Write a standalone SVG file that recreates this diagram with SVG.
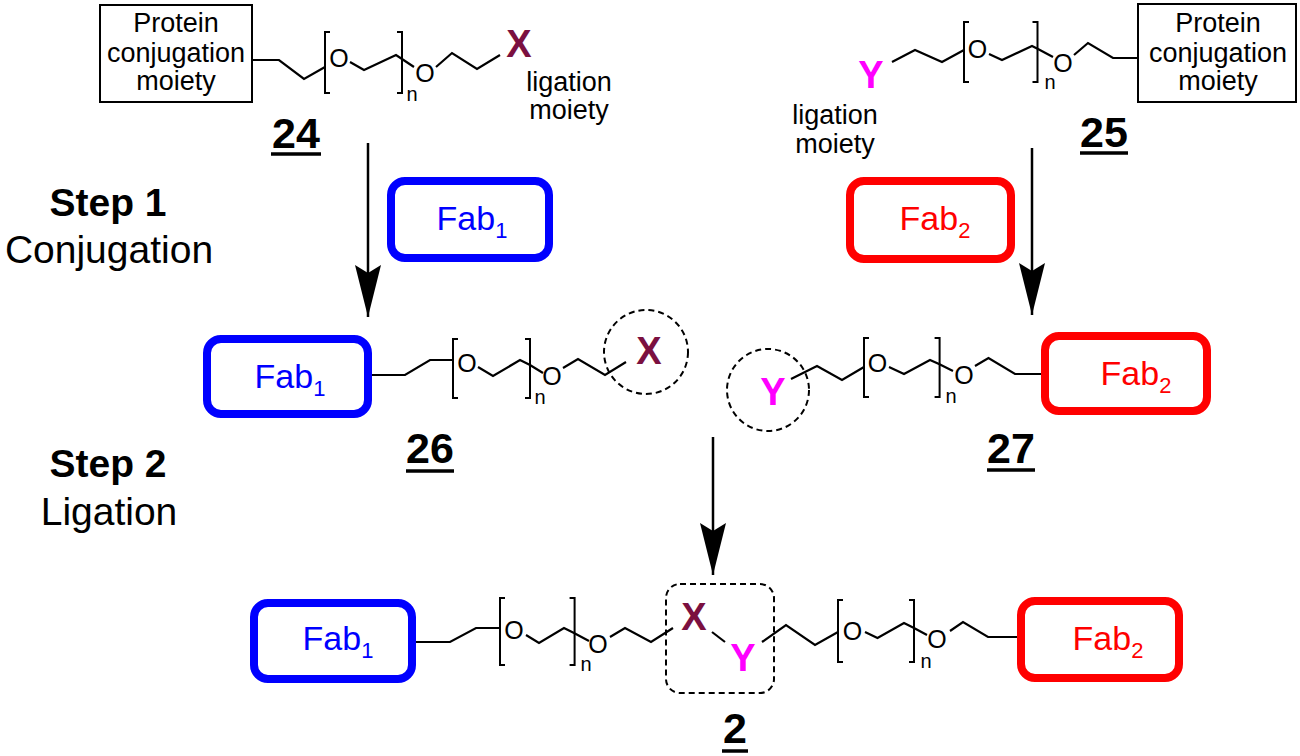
<svg xmlns="http://www.w3.org/2000/svg" width="1300" height="756" viewBox="0 0 1300 756">
<defs>
<style>
.bond{fill:none;stroke:#000;stroke-width:2.2;stroke-linejoin:miter}
.brk{fill:none;stroke:#000;stroke-width:2}
.atom{font-family:"Liberation Sans",Arial,sans-serif;font-size:25px;fill:#000;text-anchor:middle}
.sub{font-family:"Liberation Sans",Arial,sans-serif;font-size:20px;fill:#000;text-anchor:middle}
.lbl{font-family:"Liberation Sans",Arial,sans-serif;font-size:27px;fill:#000;text-anchor:middle}
.num{font-family:"Liberation Sans",Arial,sans-serif;font-size:43px;font-weight:bold;fill:#000;text-anchor:middle}
.ul{stroke:#000;stroke-width:3.5}
.step{font-family:"Liberation Sans",Arial,sans-serif;font-size:39px;fill:#000;text-anchor:middle}
.X{font-family:"Liberation Sans",Arial,sans-serif;font-size:38px;font-weight:bold;fill:#7B1040;text-anchor:middle}
.Y{font-family:"Liberation Sans",Arial,sans-serif;font-size:38px;font-weight:bold;fill:#FF00FF;text-anchor:middle}
.pbox{fill:#fff;stroke:#000;stroke-width:2}
.fab1{fill:#fff;stroke:#0000FF;stroke-width:8}
.fab2{fill:#fff;stroke:#FF0000;stroke-width:8}
.t1{font-family:"Liberation Sans",Arial,sans-serif;font-size:34px;fill:#0000FF;text-anchor:middle}
.t2{font-family:"Liberation Sans",Arial,sans-serif;font-size:34px;fill:#FF0000;text-anchor:middle}
.dash{fill:none;stroke:#000;stroke-width:2;stroke-dasharray:6 4}
.arr{stroke:#000;stroke-width:2.5;fill:none}
</style>
<marker id="head" markerUnits="userSpaceOnUse" viewBox="0 -13 52 26" refX="52" refY="0" markerWidth="52" markerHeight="26" orient="auto">
<path d="M0,-13 L52,0 L0,13 L8,0 Z" fill="#000"/>
</marker>
</defs>
<rect width="1300" height="756" fill="#fff"/>

<g id="steps">
<text class="step" x="108" y="216" font-weight="bold">Step 1</text>
<text class="step" x="109" y="263">Conjugation</text>
<text class="step" x="108" y="477" font-weight="bold">Step 2</text>
<text class="step" x="109" y="525">Ligation</text>
</g>

<g id="connectors">
<line class="arr" x1="368" y1="143" x2="368" y2="317" marker-end="url(#head)"/>
<line class="arr" x1="1032" y1="148" x2="1032" y2="315" marker-end="url(#head)"/>
<line class="arr" x1="713" y1="437" x2="713" y2="575" marker-end="url(#head)"/>
</g>

<g id="compound24">
<rect class="pbox" x="100" y="5" width="152" height="97"/>
<text class="lbl" x="176" y="32">Protein</text>
<text class="lbl" x="176" y="62">conjugation</text>
<text class="lbl" x="176" y="90">moiety</text>
<polyline class="bond" points="252,60 279,60 304,79 325,67"/>
<path class="brk" d="M330,32 H325 V93 H330"/>
<text class="atom" x="339" y="66.5">O</text>
<polyline class="bond" points="350,62 364,70 396,55 402,59 414,67"/>
<path class="brk" d="M397,32 H402 V93 H397"/>
<text class="sub" x="412" y="101">n</text>
<text class="atom" x="425" y="81.5">O</text>
<polyline class="bond" points="436,67 452,53 477,69 500,55"/>
<text class="X" x="519" y="57">X</text>
<text class="lbl" x="569" y="91">ligation</text>
<text class="lbl" x="569" y="119">moiety</text>
<text class="num" x="296" y="148">24</text>
<line class="ul" x1="271" y1="154" x2="321" y2="154"/>
</g>

<g id="compound25">
<text class="Y" x="871" y="88">Y</text>
<polyline class="bond" points="892,62 915,50 942,62 964,50"/>
<path class="brk" d="M969,22 H964 V82 H969"/>
<text class="atom" x="977.5" y="58">O</text>
<polyline class="bond" points="989,54 1002,60 1032,46 1038,49 1053,57"/>
<path class="brk" d="M1032.5,22 H1037.5 V82 H1032.5"/>
<text class="sub" x="1050" y="89">n</text>
<text class="atom" x="1063" y="71.5">O</text>
<polyline class="bond" points="1074,55 1088,43 1113,58 1138,58"/>
<rect class="pbox" x="1138" y="4" width="158" height="98"/>
<text class="lbl" x="1218" y="32">Protein</text>
<text class="lbl" x="1218" y="62">conjugation</text>
<text class="lbl" x="1218" y="90">moiety</text>
<text class="lbl" x="835" y="124">ligation</text>
<text class="lbl" x="835" y="153">moiety</text>
<text class="num" x="1104" y="147">25</text>
<line class="ul" x1="1080" y1="153" x2="1128" y2="153"/>
</g>

<g id="fab1-reagent">
<rect class="fab1" x="391" y="181" width="158" height="77" rx="14"/>
<text class="t1" x="472" y="230">Fab<tspan dy="8" font-size="22">1</tspan></text>
</g>

<g id="fab2-reagent">
<rect class="fab2" x="850" y="181" width="161" height="78" rx="14"/>
<text class="t2" x="935" y="230">Fab<tspan dy="8" font-size="22">2</tspan></text>
</g>

<g id="compound26">
<rect class="fab1" x="207" y="339" width="161" height="75" rx="14"/>
<text class="t1" x="290" y="388">Fab<tspan dy="8" font-size="22">1</tspan></text>
<polyline class="bond" points="372,375 405,375 430,360 453,360"/>
<path class="brk" d="M458,339 H453 V398 H458"/>
<text class="atom" x="467" y="371.5">O</text>
<polyline class="bond" points="478,367 493,376 520,360 530,365 543,373"/>
<path class="brk" d="M525,339 H530 V398 H525"/>
<text class="sub" x="540" y="404">n</text>
<text class="atom" x="552" y="385">O</text>
<polyline class="bond" points="563,368 578,359 605,375 626,362"/>
<circle class="dash" cx="646" cy="352" r="42"/>
<text class="X" x="649" y="364">X</text>
<text class="num" x="430" y="463">26</text>
<line class="ul" x1="406" y1="471" x2="454" y2="471"/>
</g>

<g id="compound27">
<circle class="dash" cx="768" cy="390" r="41"/>
<text class="Y" x="773" y="405">Y</text>
<polyline class="bond" points="791,379 817,366 842,380 864,367"/>
<path class="brk" d="M869,338 H864 V397 H869"/>
<text class="atom" x="877.5" y="371.5">O</text>
<polyline class="bond" points="889,367 904,374 930,360 939,364 953,371"/>
<path class="brk" d="M934.6,338 H939.6 V397 H934.6"/>
<text class="sub" x="951" y="403">n</text>
<text class="atom" x="964" y="384">O</text>
<polyline class="bond" points="975,366 988.5,358 1015,374 1041,374"/>
<rect class="fab2" x="1045" y="336" width="162" height="75" rx="14"/>
<text class="t2" x="1136" y="385">Fab<tspan dy="8" font-size="22">2</tspan></text>
<text class="num" x="1011" y="463">27</text>
<line class="ul" x1="987" y1="470" x2="1035" y2="470"/>
</g>

<g id="compound2">
<rect class="fab1" x="254" y="603" width="158" height="76" rx="14"/>
<text class="t1" x="338" y="650">Fab<tspan dy="8" font-size="22">1</tspan></text>
<polyline class="bond" points="416,642 450,642 476,628 500,628"/>
<path class="brk" d="M505,598 H500 V665 H505"/>
<text class="atom" x="514" y="639">O</text>
<polyline class="bond" points="526,635 539,643 564,628 574,633 589,641"/>
<path class="brk" d="M569.6,598 H574.6 V665 H569.6"/>
<text class="sub" x="586" y="671">n</text>
<text class="atom" x="598" y="653">O</text>
<polyline class="bond" points="610,637 625,628 651,642 673,628"/>
<rect class="dash" x="666" y="584" width="108" height="109" rx="14"/>
<text class="X" x="694" y="630">X</text>
<line class="bond" x1="712" y1="632" x2="725" y2="642"/>
<text class="Y" x="743" y="671">Y</text>
<polyline class="bond" points="762,642 786,625 815,645 838,632"/>
<path class="brk" d="M843,600 H838 V662 H843"/>
<text class="atom" x="852.5" y="639.5">O</text>
<polyline class="bond" points="865,632 877.5,638 904,623 914,628 927,635"/>
<path class="brk" d="M909,600 H914 V662 H909"/>
<text class="sub" x="926" y="668">n</text>
<text class="atom" x="937" y="648">O</text>
<polyline class="bond" points="950,631 963,622 988,637 1017,637"/>
<rect class="fab2" x="1021" y="601" width="158" height="77" rx="14"/>
<text class="t2" x="1108" y="650">Fab<tspan dy="8" font-size="22">2</tspan></text>
<text class="num" x="735" y="743" font-size="40">2</text>
<line class="ul" x1="722" y1="751" x2="748" y2="751" stroke="#333"/>
</g>
</svg>
